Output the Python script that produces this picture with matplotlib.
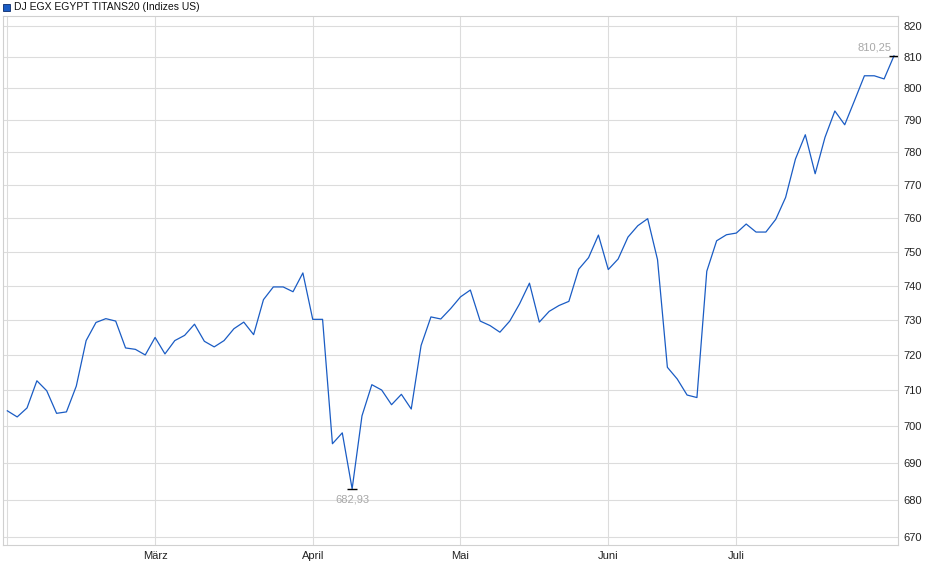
import numpy as np
import matplotlib.pyplot as plt
from matplotlib.ticker import FixedLocator, FixedFormatter, NullLocator
from matplotlib.patches import Rectangle

plt.rcParams['font.family'] = ['Liberation Sans', 'DejaVu Sans']

titel = "DJ EGX EGYPT TITANS20 (Indizes US)"

# Schlusskurse, ein Wert pro Handelstag
kurse = [704.3, 702.6, 705.1, 712.7, 709.9, 703.6, 704.0, 711.2, 724.1, 729.3,
         730.4, 729.7, 722.0, 721.6, 720.0, 725.0, 720.3, 724.1, 725.6, 728.8,
         723.9, 722.3, 724.1, 727.5, 729.4, 725.8, 735.9, 739.6, 739.6, 738.2,
         743.7, 730.2, 730.2, 695.2, 698.2, 682.93, 702.9, 711.6, 710.1, 706.0,
         708.9, 704.8, 722.7, 730.9, 730.3, 733.3, 736.7, 738.7, 729.7, 728.4,
         726.5, 729.7, 734.7, 740.7, 729.4, 732.5, 734.2, 735.4, 744.8, 748.2,
         754.9, 744.7, 747.8, 754.3, 757.7, 759.8, 747.6, 716.5, 713.2, 708.7,
         708.0, 744.2, 753.2, 755.0, 755.5, 758.2, 755.8, 755.8, 759.6, 766.2,
         777.9, 785.4, 773.4, 784.6, 792.8, 788.5, 796.1, 803.9, 803.9, 802.9,
         810.25]

monate = ["März", "April", "Mai", "Juni", "Juli"]
monat_index = [15, 31, 46, 61, 74]
y_ticks = list(range(670, 821, 10))

x = np.arange(len(kurse))

fig = plt.figure(figsize=(9.4, 5.79), dpi=100)
ax = fig.add_axes([2.5/940, 34/579, (898.3-2.5)/940, (545-16.3)/579])

ax.plot(x, kurse, color='#1a5cc4', lw=0.9)

ax.set_yscale('log')
ax.set_ylim(667.96, 823.0)
ax.set_xlim(-0.49, 90.44)

ax.yaxis.set_major_locator(FixedLocator(y_ticks))
ax.yaxis.set_major_formatter(FixedFormatter([str(v) for v in y_ticks]))
ax.yaxis.set_minor_locator(NullLocator())
ax.yaxis.tick_right()

ax.set_xticks([0] + monat_index)
ax.set_xticklabels([""] + monate)

ax.tick_params(axis='both', length=0, labelsize=8, colors='#222222')
ax.tick_params(axis='y', pad=4)
ax.tick_params(axis='x', pad=4)

ax.grid(True, color='#dcdcdc', lw=0.8)
ax.set_axisbelow(True)
for s in ax.spines.values():
    s.set_color('#d0d0d0')
    s.set_linewidth(0.8)

# Hoch und Tief markieren
i_max = int(np.argmax(kurse))
i_min = int(np.argmin(kurse))
ax.plot([i_max, i_min], [kurse[i_max], kurse[i_min]], ls='none', marker='_',
        color='black', markersize=7, mew=1)
ax.annotate(f"{kurse[i_max]:.2f}".replace('.', ','), (i_max, kurse[i_max]),
            xytext=(-2, 8), textcoords='offset pixels', ha='right', va='center',
            fontsize=8, color='#a8a8a8')
ax.annotate(f"{kurse[i_min]:.2f}".replace('.', ','), (i_min, kurse[i_min]),
            xytext=(0, -11), textcoords='offset pixels', ha='center', va='center',
            fontsize=8, color='#a8a8a8')

# Legende oben links
fig.patches.append(Rectangle((3/940, 1 - 11/579), 7/940, 7/579, transform=fig.transFigure,
                             facecolor='#1a5cc4', edgecolor='#0a2a6a', lw=0.6))
fig.text(14/940, 1 - 7/579, titel, fontsize=7.5, va='center', ha='left', color='#111111')

fig.savefig("out.png", dpi=100)
